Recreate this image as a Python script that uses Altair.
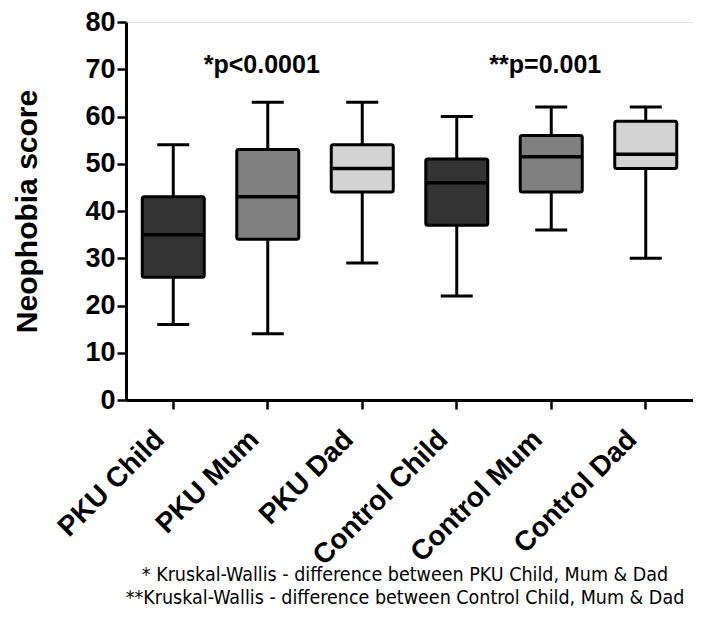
import altair as alt
import pandas as pd

groups = ["PKU Child", "PKU Mum", "PKU Dad", "Control Child", "Control Mum", "Control Dad"]
mins = [16, 14, 29, 22, 36, 30]
q1s = [26, 34, 44, 37, 44, 49]
medians = [35, 43, 49, 46, 51.5, 52]
q3s = [43, 53, 54, 51, 56, 59]
maxs = [54, 63, 63, 60, 62, 62]
fills = ["#333333", "#808080", "#d3d3d3", "#333333", "#808080", "#d3d3d3"]

ann_groups = ["PKU Mum", "Control Mum"]
ann_texts = ["*p<0.0001", "**p=0.001"]
ann_y = [71, 71]

foot_lines = ["* Kruskal-Wallis - difference between PKU Child, Mum & Dad",
              "**Kruskal-Wallis - difference between Control Child, Mum & Dad"]

df = pd.DataFrame({"group": groups, "min": mins, "q1": q1s, "median": medians,
                   "q3": q3s, "max": maxs, "fill": fills})
ann = pd.DataFrame({"group": ann_groups, "text": ann_texts, "y": ann_y})

FONT = "Liberation Sans"
xs = alt.X("group:N", sort=groups, scale=alt.Scale(paddingInner=0, paddingOuter=0),
           axis=alt.Axis(title=None, labelAngle=-45, labelAlign="right", labelBaseline="middle",
                         labelFont=FONT, labelFontWeight="bold", labelFontSize=28,
                         labelColor="black", labelPadding=26, labelOffset=-13, labelLimit=300,
                         domainColor="black", domainWidth=3, tickColor="black",
                         tickWidth=2.5, tickSize=9, grid=False))
ys = alt.Y("q1:Q", scale=alt.Scale(domain=[0, 80], nice=False),
           axis=alt.Axis(title="Neophobia score", values=list(range(0, 81, 10)),
                         labelFont=FONT, labelFontWeight="bold", labelFontSize=27,
                         labelColor="black", labelPadding=2,
                         titleFont=FONT, titleFontWeight="bold", titleFontSize=30,
                         titleColor="black", titleAngle=-90, titleX=-99, titleY=189,
                         titleBaseline="middle", titleAlign="center",
                         domainColor="black", domainWidth=3, tickColor="black",
                         tickWidth=2.5, tickSize=9, grid=False))

base = alt.Chart(df)
whisk_lo = base.mark_rule(color="black", strokeWidth=3).encode(x=xs, y=alt.Y("min:Q"), y2="q1:Q")
whisk_hi = base.mark_rule(color="black", strokeWidth=3).encode(x=xs, y=alt.Y("q3:Q"), y2="max:Q")
cap_lo = base.mark_tick(color="black", size=32, thickness=3, opacity=1).encode(x=xs, y=alt.Y("min:Q"))
cap_hi = base.mark_tick(color="black", size=32, thickness=3, opacity=1).encode(x=xs, y=alt.Y("max:Q"))
box = base.mark_bar(size=62, stroke="black", strokeWidth=3, cornerRadius=2, opacity=1).encode(
    x=xs, y=ys, y2="q3:Q", fill=alt.Fill("fill:N", scale=None))
med = base.mark_tick(color="black", size=62, thickness=3.5, opacity=1).encode(x=xs, y=alt.Y("median:Q"))

ann_layer = alt.Chart(ann).mark_text(font=FONT, fontWeight="bold", fontSize=25, color="black",
                                     baseline="middle", dx=-6).encode(
    x=alt.X("group:N", sort=groups), y=alt.Y("y:Q"), text="text:N")

FOOT_FONT = "DejaVu Sans Condensed"
foot1 = alt.Chart(pd.DataFrame({"t": [foot_lines[0]]})).mark_text(
    font=FOOT_FONT, fontSize=19.5, color="black", align="center", baseline="middle").encode(
    x=alt.value(279), y=alt.value(553), text="t:N")
foot2 = alt.Chart(pd.DataFrame({"t": [foot_lines[1]]})).mark_text(
    font=FOOT_FONT, fontSize=19.5, color="black", align="center", baseline="middle").encode(
    x=alt.value(279), y=alt.value(576), text="t:N")

chart = alt.layer(whisk_lo, whisk_hi, cap_lo, cap_hi, box, med, ann_layer, foot1, foot2).properties(
    width=567, height=378,
    autosize=alt.AutoSizeParams(type="none"),
    padding={"left": 118, "top": 14, "right": 0, "bottom": 210},
).configure_view(stroke=None).configure(background="white")

chart.save("out.html", embed_options={"renderer": "svg", "actions": False})
